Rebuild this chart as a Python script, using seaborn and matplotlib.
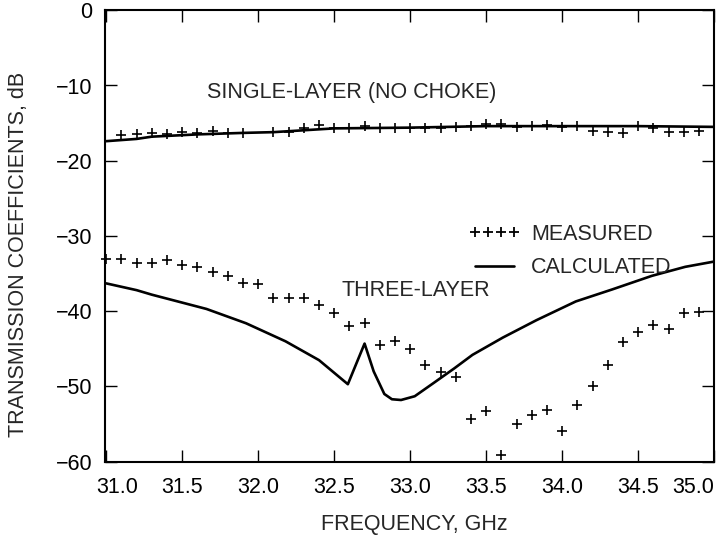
import matplotlib
matplotlib.use("Agg")
import matplotlib.pyplot as plt
import matplotlib.transforms as mtransforms
from matplotlib.lines import Line2D
import seaborn as sns

# single-layer (no choke)
single_meas_x = [31.1, 31.2, 31.3, 31.4, 31.5, 31.6, 31.7, 31.8, 31.9,
                 32.1, 32.2, 32.3, 32.4, 32.5, 32.6, 32.7, 32.8, 32.9, 33.0,
                 33.1, 33.2, 33.3, 33.4, 33.5, 33.6, 33.7, 33.8, 33.9, 34.0,
                 34.1, 34.2, 34.3, 34.4, 34.5, 34.6, 34.7, 34.8, 34.9]
single_meas_y = [-16.6, -16.5, -16.3, -16.5, -16.2, -16.3, -16.1, -16.3, -16.3,
                 -16.2, -16.2, -15.6, -15.3, -15.6, -15.7, -15.4, -15.7, -15.7, -15.7,
                 -15.7, -15.7, -15.5, -15.4, -15.1, -15.1, -15.5, -15.4, -15.3, -15.5,
                 -15.4, -16.0, -16.2, -16.3, -15.4, -15.6, -16.2, -16.2, -16.0]
single_calc_x = [31.0, 31.2, 31.3, 31.6, 31.9, 32.1, 32.5, 33.0, 33.5, 34.1, 34.5, 35.0]
single_calc_y = [-17.4, -17.1, -16.8, -16.5, -16.3, -16.2, -15.7, -15.6, -15.4, -15.4, -15.4, -15.5]

# three-layer
three_meas_x = [31.0, 31.1, 31.2, 31.3, 31.4, 31.5, 31.6, 31.7, 31.8, 31.9,
                32.0, 32.1, 32.2, 32.3, 32.4, 32.5, 32.6, 32.7, 32.8, 32.9,
                33.0, 33.1, 33.2, 33.3, 33.4, 33.5, 33.6, 33.7, 33.8, 33.9,
                34.0, 34.1, 34.2, 34.3, 34.4, 34.5, 34.6, 34.7, 34.8, 34.9]
three_meas_y = [-33.1, -33.1, -33.6, -33.6, -33.2, -33.8, -34.1, -34.8, -35.3, -36.2,
                -36.4, -38.3, -38.2, -38.2, -39.2, -40.3, -41.9, -41.5, -44.5, -43.9,
                -45.0, -47.1, -48.1, -48.7, -54.3, -53.3, -59.1, -55.0, -53.8, -53.1,
                -55.9, -52.5, -50.0, -47.1, -44.1, -42.8, -41.8, -42.3, -40.2, -40.1]
three_calc_x = [31.0, 31.2, 31.3, 31.66, 31.92, 32.18, 32.4, 32.59, 32.7, 32.76,
                32.83, 32.88, 32.94, 33.03, 33.15, 33.29, 33.41, 33.61, 33.83,
                34.09, 34.33, 34.59, 34.81, 35.0]
three_calc_y = [-36.3, -37.2, -37.8, -39.7, -41.6, -44.0, -46.5, -49.7, -44.3, -48.0,
                -51.0, -51.7, -51.8, -51.3, -49.6, -47.6, -45.8, -43.5, -41.2,
                -38.7, -37.1, -35.3, -34.1, -33.4]

x_ticks = [31.0, 31.5, 32.0, 32.5, 33.0, 33.5, 34.0, 34.5, 35.0]
y_ticks = [0, -10, -20, -30, -40, -50, -60]

FS = 15.5

sns.set_style("ticks")
plt.rcParams['font.family'] = ['Liberation Sans', 'DejaVu Sans']
plt.rcParams['font.size'] = FS

fig, ax = plt.subplots(figsize=(7.17, 5.4), dpi=100)
fig.subplots_adjust(left=0.146, right=0.996, top=0.981, bottom=0.145)

for mx, my in [(single_meas_x, single_meas_y), (three_meas_x, three_meas_y)]:
    sns.scatterplot(x=mx, y=my, marker='+', s=55, color='black',
                    linewidth=1.2, ax=ax, clip_on=False, zorder=3)
for cx, cy in [(single_calc_x, single_calc_y), (three_calc_x, three_calc_y)]:
    sns.lineplot(x=cx, y=cy, color='black', linewidth=1.9, sort=False, ax=ax)

ax.set_xlim(30.99, 35.0)
ax.set_ylim(-60, 0)
ax.set_xticks(x_ticks)
ax.set_xticklabels(['%.1f' % t for t in x_ticks])
ax.set_yticks(y_ticks)
ax.tick_params(direction='in', length=8.5, width=1.0, top=True, right=True,
               labelsize=FS, colors='black')
ax.tick_params(axis='x', pad=11)
ax.tick_params(axis='y', pad=9)
for s in ax.spines.values():
    s.set_linewidth(1.5)
    s.set_color('black')

# edge tick labels sit inside the frame like the original
xlabels = ax.get_xticklabels()
xlabels[0].set_transform(xlabels[0].get_transform() +
                         mtransforms.ScaledTranslation(0.11, 0, fig.dpi_scale_trans))
xlabels[-1].set_horizontalalignment('right')

ax.set_xlabel('FREQUENCY, GHz', fontsize=FS)
ax.xaxis.set_label_coords(0.508, -0.115)
ax.set_ylabel('TRANSMISSION COEFFICIENTS, dB', fontsize=FS)
ax.yaxis.set_label_coords(-0.125, 0.46)

ax.text(31.66, -10.9, 'SINGLE-LAYER (NO CHOKE)', fontsize=FS, va='center', ha='left')
ax.text(32.55, -37.2, 'THREE-LAYER', fontsize=FS, va='center', ha='left')

handles = [Line2D([], [], color='black', marker='+', linestyle='', markersize=7.5,
                  markeredgewidth=1.3),
           Line2D([], [], color='black', linewidth=1.9)]
ax.legend(handles, ['MEASURED', 'CALCULATED'], loc='upper left',
          bbox_to_anchor=(0.583, 0.546), frameon=False, numpoints=4,
          handlelength=2.4, handletextpad=0.5, labelspacing=0.58, fontsize=FS,
          borderaxespad=0.0)

fig.savefig('out.png', dpi=100)
